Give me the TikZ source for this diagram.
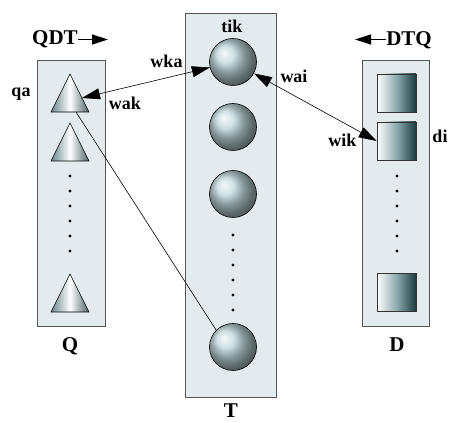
\documentclass[tikz,border=0pt]{standalone}
\usepackage{fontspec}
\setmainfont{Liberation Serif}
\usetikzlibrary{arrows.meta}
\definecolor{storefill}{RGB}{228,235,238}
\definecolor{storeline}{RGB}{85,85,85}
\definecolor{balltone}{RGB}{190,214,217}
\definecolor{darkteal}{RGB}{28,58,62}
\definecolor{midteal}{RGB}{140,170,175}

\begin{document}
\begin{tikzpicture}[x=1pt, y=1pt,
    store/.style={draw=storeline, fill=storefill, line width=0.9pt},
    ball/.style={circle, draw=black, line width=0.6pt, minimum size=47pt, inner sep=0pt,
      shading=ball, ball color=balltone},
    doc/.style={draw=black!80, line width=0.6pt, minimum width=39pt, minimum height=38pt,
      inner sep=0pt, left color=white, right color=darkteal, middle color=midteal},
    query/.style={draw=black, line width=0.6pt, left color=midteal!70!darkteal, right color=darkteal!80,
      middle color=white},
    lbl/.style={font=\fontsize{18}{21}\selectfont\bfseries, inner sep=0pt, anchor=base},
    big/.style={font=\fontsize{21}{25}\selectfont\bfseries, inner sep=0pt, anchor=base},
    link/.style={line width=0.6pt, {Triangle[length=18pt,width=11pt]}-{Triangle[length=18pt,width=11pt]}},
    dir/.style={line width=1.3pt, -{Triangle[length=16pt,width=10pt]}}]
  \useasboundingbox (0,0) rectangle (450,423);
  % the three stores
  \draw[store] (37,97) rectangle (105,363);
  \draw[store] (185,26) rectangle (276,410);
  \draw[store] (362,97) rectangle (429,363);
  \node[big] (Q) at (70,71) {Q};
  \node[big] (T) at (231,5) {T};
  \node[big] (D) at (397,71) {D};
  % directions
  \node[big] (qdt) at (55,378) {QDT};
  \coordinate (qdtend) at (108,383.5);
  \draw[dir] (qdt.east |- qdtend) -- (qdtend);
  \node[big] (dtq) at (409,377) {DTQ};
  \coordinate (dtqend) at (355,383.5);
  \draw[dir] (dtq.west |- dtqend) -- (dtqend);
  % queries
  \foreach \b in {311,262,111}
    \shade[query] (51,\b) -- (89,\b) -- (70,\b+38) -- cycle;
  \foreach \y in {247,232,...,172} \fill (70,\y) circle[radius=1.7pt];
  % terms
  \node[ball] (t1) at (233,361) {};
  \node[ball] (t2) at (233,296) {};
  \node[ball] (t3) at (233,229) {};
  \node[ball] (t4) at (233,76) {};
  \foreach \y in {188,173,...,113} \fill (233,\y) circle[radius=1.7pt];
  % documents
  \node[doc] (d1) at (396.5,330) {};
  \node[doc] (d2) at (396.5,282) {};
  \node[doc] (d3) at (396.5,130.5) {};
  \foreach \y in {247,232,...,172} \fill (397,\y) circle[radius=1.7pt];
  % labels
  \node[lbl] (qa) at (21,326) {qa};
  \node[lbl] (wak) at (125,313) {wak};
  \node[lbl] (wka) at (166.5,355) {wka};
  \node[lbl] (tik) at (232,390) {tik};
  \node[lbl] (wai) at (294,340) {wai};
  \node[lbl] (wik) at (342.5,276) {wik};
  \node[lbl] (di) at (440,280) {di};
  % links
  \coordinate (qaside) at (82,325);
  \coordinate (qabase) at (76,311);
  \draw[link] (qaside) -- (t1);
  \draw[link] (t1) -- (d2.west);
  \draw[line width=0.6pt] (qabase) -- (t4.north west);
\end{tikzpicture}
\end{document}
